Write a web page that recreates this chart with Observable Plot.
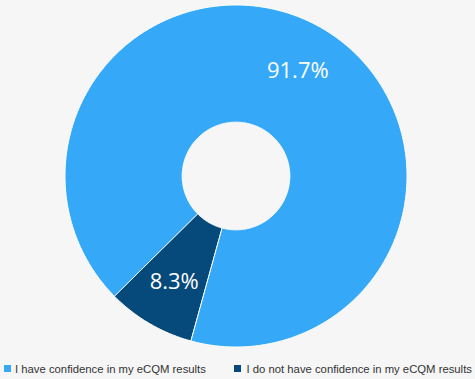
<!DOCTYPE html>
<html><head><meta charset="utf-8">
<script src="https://cdn.jsdelivr.net/npm/d3@7"></script>
<script src="https://cdn.jsdelivr.net/npm/@observablehq/plot@0.6"></script>
<style>
html,body{margin:0;padding:0;background:#f6f6f6;}
#chart{width:475px;height:352px;}
#legend{position:relative;width:475px;height:27px;font-family:"Liberation Sans",Arial,sans-serif;font-size:11.3px;color:#333;}
.sw{position:absolute;width:7px;height:7px;top:13px}
.lt{position:absolute;top:11px;line-height:12px;white-space:nowrap}
</style></head><body>
<div id="chart"></div>
<div id="legend"></div>
<script>
const categories = ["I have confidence in my eCQM results", "I do not have confidence in my eCQM results"];
const values = [91.7, 8.3];
const valueLabels = ["91.7%", "8.3%"];
const colors = ["#35a9f8", "#064a7b"];

const startDeg = 225.3;
const innerRatio = 0.315;
const labelRadius = 0.715;

const a0 = startDeg * Math.PI / 180;
const arcs = d3.pie().sort(null).startAngle(a0).endAngle(a0 + 2 * Math.PI)(values);
const polar = (r, a) => [r * Math.sin(a), r * Math.cos(a)];

const ring = [];
arcs.forEach((arc, i) => {
  const span = arc.endAngle - arc.startAngle;
  const n = Math.max(8, Math.ceil(span / (Math.PI / 360)));
  for (let k = 0; k <= n; k++) {
    const [x, y] = polar(1, arc.startAngle + span * k / n);
    ring.push({cat: categories[i], x, y});
  }
  for (let k = n; k >= 0; k--) {
    const [x, y] = polar(innerRatio, arc.startAngle + span * k / n);
    ring.push({cat: categories[i], x, y});
  }
});

const labelData = arcs.map((arc, i) => {
  const mid = (arc.startAngle + arc.endAngle) / 2;
  const [x, y] = polar(labelRadius, mid);
  return {x, y, text: valueLabels[i]};
});

const plot = Plot.plot({
  width: 475,
  height: 352,
  marginLeft: 64.5,
  marginRight: 68.5,
  marginTop: 4.5,
  marginBottom: 5.5,
  x: {domain: [-1, 1], axis: null},
  y: {domain: [-1, 1], axis: null},
  color: {domain: categories, range: colors},
  style: {background: "#f6f6f6", overflow: "visible"},
  marks: [
    Plot.line(ring, {x: "x", y: "y", z: "cat", fill: "cat", stroke: "white", strokeWidth: 1, curve: "linear-closed"}),
    Plot.text(labelData, {x: "x", y: "y", text: "text", fill: "white", fontSize: 22, fontFamily: "Open Sans", textAnchor: "middle"})
  ]
});
document.getElementById("chart").appendChild(plot);

const legend = document.getElementById("legend");
const legendX = [[3.5, 15], [234, 246.5]];
categories.forEach((c, i) => {
  const sw = document.createElement("div");
  sw.className = "sw";
  sw.style.left = legendX[i][0] + "px";
  sw.style.background = colors[i];
  legend.appendChild(sw);
  const t = document.createElement("div");
  t.className = "lt";
  t.style.left = legendX[i][1] + "px";
  t.textContent = c;
  legend.appendChild(t);
});
</script>
</body></html>
